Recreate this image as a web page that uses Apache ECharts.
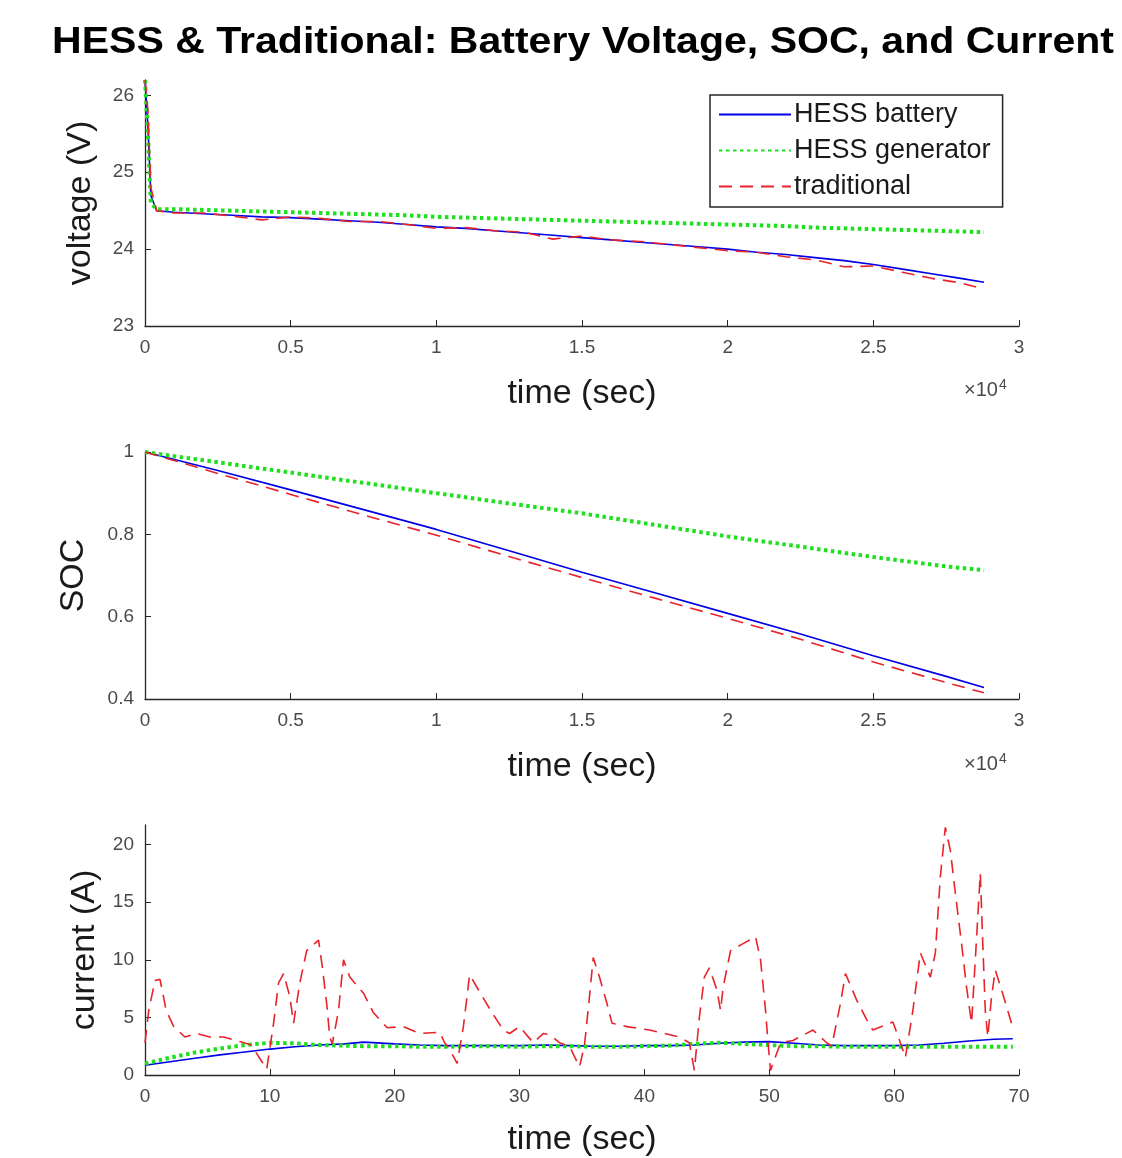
<!DOCTYPE html>
<html>
<head>
<meta charset="utf-8">
<script src="https://cdn.jsdelivr.net/npm/echarts@6/dist/echarts.min.js"></script>
<style>
  html, body { margin: 0; padding: 0; background: #fff; }
  #chart { width: 1122px; height: 1158px; }
</style>
</head>
<body>
<div id="chart"></div>
<script>
// voltage (top panel), time in seconds
const voltTime = [0, 100, 200, 400, 1000, 2000, 3000, 4000, 5000, 6000, 7000, 8000, 9000, 10000,
  11000, 12000, 13000, 14000, 15000, 16000, 17000, 18000, 19000, 20000, 21000, 22000, 23000,
  24000, 25000, 26000, 27000, 28000, 28800]
const voltBattery = [26.2, 25.6, 24.7, 24.5, 24.48, 24.46, 24.44, 24.42, 24.41, 24.39, 24.37, 24.35,
  24.32, 24.29, 24.27, 24.24, 24.21, 24.18, 24.15, 24.12, 24.09, 24.06, 24.03, 24.0, 23.96, 23.93,
  23.89, 23.85, 23.8, 23.74, 23.68, 23.62, 23.57]
const voltGenerator = [26.2, 25.5, 24.6, 24.52, 24.52, 24.51, 24.50, 24.49, 24.48, 24.47, 24.46,
  24.45, 24.44, 24.42, 24.41, 24.40, 24.39, 24.38, 24.37, 24.36, 24.35, 24.34, 24.33, 24.32, 24.31,
  24.30, 24.28, 24.27, 24.26, 24.25, 24.24, 24.23, 24.22]
const voltTraditional = [26.2, 25.8, 24.8, 24.5, 24.47, 24.47, 24.43, 24.38, 24.42, 24.40, 24.36,
  24.36, 24.32, 24.27, 24.28, 24.24, 24.22, 24.13, 24.17, 24.12, 24.10, 24.06, 24.02, 23.98, 23.96,
  23.90, 23.86, 23.77, 23.78, 23.70, 23.62, 23.56, 23.48]

// state of charge (middle panel)
const socTime = [0, 2500, 5000, 7500, 10000, 12500, 15000, 17500, 20000, 22500, 25000, 27500, 28800]
const socBattery = [1.0, 0.955, 0.908, 0.860, 0.812, 0.760, 0.708, 0.658, 0.608, 0.558, 0.505, 0.455, 0.428]
const socGenerator = [1.0, 0.975, 0.95, 0.925, 0.900, 0.875, 0.851, 0.823, 0.795, 0.770, 0.745, 0.722, 0.713]
const socTraditional = [1.0, 0.948, 0.897, 0.847, 0.798, 0.746, 0.695, 0.645, 0.596, 0.545, 0.490, 0.440, 0.415]

// current (bottom panel)
const curTime = [0, 2, 4, 6, 8, 10, 12, 14, 16, 17.5, 20, 22, 24, 26, 28, 30, 32, 34, 36, 38, 40,
  42, 44, 46, 48, 50, 52, 54, 56, 58, 60, 62, 64, 66, 68, 69.5]
const curBattery = [0.85, 1.15, 1.45, 1.75, 2.0, 2.25, 2.45, 2.6, 2.7, 2.85, 2.7, 2.6, 2.55, 2.55,
  2.55, 2.55, 2.6, 2.55, 2.5, 2.5, 2.55, 2.55, 2.6, 2.75, 2.85, 2.9, 2.75, 2.6, 2.55, 2.55, 2.55,
  2.6, 2.75, 2.95, 3.1, 3.15]
const curGenerator = [1.0, 1.5, 1.95, 2.3, 2.6, 2.8, 2.75, 2.6, 2.55, 2.5, 2.5, 2.45, 2.45, 2.5,
  2.5, 2.45, 2.5, 2.5, 2.45, 2.45, 2.5, 2.55, 2.7, 2.8, 2.7, 2.6, 2.5, 2.5, 2.45, 2.45, 2.45, 2.45,
  2.45, 2.45, 2.45, 2.45]
const tradTime = [0, 0.3, 0.8, 1.2, 1.7, 2.3, 3.2, 4.1, 5.2, 6.3, 7.6, 8.5, 9.75, 10.3, 10.7, 11.1,
  11.6, 11.9, 12.4, 12.95, 13.9, 14.2, 14.55, 14.8, 15.0, 15.5, 15.9, 16.4, 17.5, 18.3, 19.4, 20.7,
  22.0, 23.6, 24.0, 24.3, 25.0, 25.5, 26.0, 26.7, 27.8, 28.7, 29.2, 30.0, 31.1, 31.9, 32.4, 33.2,
  34.0, 34.8, 35.2, 35.6, 35.9, 36.4, 37.0, 37.4, 38.6, 40.4, 41.6, 42.8, 43.6, 44.0, 44.4, 44.8,
  45.2, 45.8, 46.1, 46.3, 46.9, 47.9, 48.9, 49.3, 49.7, 49.9, 50.1, 50.9, 51.9, 53.5, 54.6, 55.0,
  55.7, 56.1, 57.0, 57.8, 58.3, 59.9, 60.5, 60.9, 61.5, 62.1, 62.9, 63.3, 63.7, 64.1, 64.5, 64.9,
  65.4, 65.8, 66.2, 66.5, 66.9, 67.1, 67.3, 67.5, 67.8, 68.1, 68.6, 69.4]
const curTraditional = [2.8, 5.6, 8.2, 8.3, 5.6, 4.2, 3.3, 3.6, 3.3, 3.3, 2.9, 2.6, 0.5, 4.5, 8.0,
  8.8, 6.8, 4.5, 8.0, 10.8, 11.7, 9.4, 6.2, 3.3, 2.7, 5.6, 10.0, 8.5, 7.1, 5.4, 4.1, 4.2, 3.6, 3.7,
  2.8, 2.4, 1.0, 4.2, 8.7, 7.4, 5.4, 3.9, 3.6, 4.2, 2.8, 3.6, 3.5, 2.8, 2.5, 0.7, 2.6, 6.8, 10.2,
  8.5, 6.2, 4.5, 4.2, 3.9, 3.6, 3.3, 2.8, 0.4, 5.0, 8.5, 9.3, 7.4, 5.6, 7.6, 10.8, 11.4, 12.0, 10.0,
  5.6, 2.8, 0.4, 2.8, 3.0, 3.9, 2.8, 2.5, 6.2, 8.8, 6.5, 4.8, 3.9, 4.6, 2.8, 1.5, 5.6, 10.6, 8.5,
  10.6, 17.2, 21.5, 19.5, 15.8, 11.4, 7.6, 4.5, 10.0, 17.5, 11.4, 5.6, 3.3, 6.8, 9.1, 7.4, 4.5]

const voltTicks = [23, 24, 25, 26]
const curTicks = [0, 5, 10, 15, 20]
const names = ['HESS battery', 'HESS generator', 'traditional']

const font = 'Liberation Sans, Arial, Helvetica, sans-serif'
const axisColor = '#262626'
const labelColor = '#4a4a4a'

function zip(xs, ys) {
  return xs.map((x, i) => [x, ys[i]])
}

const styles = [
  { color: '#0000e6', width: 1.6, type: 'solid' },
  { color: '#1ee01e', width: 4, type: [3.5, 3.5] },
  { color: '#e8232b', width: 1.6, type: [13, 8] }
]

function makeX(gridIndex, max, interval, scaled, gap) {
  return {
    type: 'value', gridIndex: gridIndex, min: 0, max: max, interval: interval,
    name: 'time (sec)', nameLocation: 'middle', nameGap: gap,
    nameTextStyle: { fontSize: 34, color: '#1a1a1a', fontFamily: font },
    axisLine: { lineStyle: { color: axisColor, width: 1.3 } },
    axisTick: { inside: true, length: 6, lineStyle: { color: axisColor } },
    axisLabel: {
      fontSize: 19, color: labelColor, fontFamily: font, margin: 12,
      formatter: v => scaled ? String(+(v / 10000).toFixed(1)) : String(v)
    },
    splitLine: { show: false }
  }
}

function makeY(gridIndex, opts) {
  return Object.assign({
    type: 'value', gridIndex: gridIndex,
    nameLocation: 'middle',
    nameTextStyle: { fontSize: 34, color: '#1a1a1a', fontFamily: font },
    axisLine: { show: true, lineStyle: { color: axisColor, width: 1.3 } },
    axisTick: { show: true, inside: true, length: 6, lineStyle: { color: axisColor } },
    axisLabel: { fontSize: 19, color: labelColor, fontFamily: font, margin: 11 },
    splitLine: { show: false }
  }, opts)
}

function panel(gridIndex, data) {
  return data.map((d, i) => ({
    name: names[i], type: 'line', xAxisIndex: gridIndex, yAxisIndex: gridIndex,
    data: d, showSymbol: false, symbol: 'none', z: 2 + i,
    lineStyle: { color: styles[i].color, width: styles[i].width, type: styles[i].type },
    itemStyle: { color: styles[i].color },
    animation: false
  }))
}

const series = [].concat(
  panel(0, [zip(voltTime, voltBattery), zip(voltTime, voltGenerator), zip(voltTime, voltTraditional)]),
  panel(1, [zip(socTime, socBattery), zip(socTime, socGenerator), zip(socTime, socTraditional)]),
  panel(2, [zip(curTime, curBattery), zip(curTime, curGenerator), zip(tradTime, curTraditional)])
)

const yAxes = [
  makeY(0, {
    min: 23, max: 26.2, name: 'voltage (V)', nameGap: 47,
    axisTick: { show: true, inside: true, length: 6, lineStyle: { color: axisColor }, customValues: voltTicks },
    axisLabel: { fontSize: 19, color: labelColor, fontFamily: font, margin: 11, customValues: voltTicks }
  }),
  makeY(1, { min: 0.4, max: 1, interval: 0.2, name: 'SOC', nameGap: 54 }),
  makeY(2, {
    min: 0, max: 21.7, name: 'current (A)', nameGap: 43,
    axisTick: { show: true, inside: true, length: 6, lineStyle: { color: axisColor }, customValues: curTicks },
    axisLabel: { fontSize: 19, color: labelColor, fontFamily: font, margin: 11, customValues: curTicks }
  })
]

const chart = echarts.init(document.getElementById('chart'), null, { renderer: 'canvas' })

const sciLabel = {
  text: '×10{s|4}', font: '20px ' + font, fill: labelColor,
  rich: { s: { fontSize: 14, verticalAlign: 'top', padding: [0, 0, 10, 1], fill: labelColor } }
}

chart.setOption({
  backgroundColor: '#fff',
  animation: false,
  textStyle: { fontFamily: font },
  grid: [
    { left: 145, width: 874, top: 80, height: 246 },
    { left: 145, width: 874, top: 452, height: 247 },
    { left: 145, width: 874, top: 825, height: 250 }
  ],
  xAxis: [
    makeX(0, 30000, 5000, true, 51),
    makeX(1, 30000, 5000, true, 51),
    makeX(2, 70, 10, false, 48)
  ],
  yAxis: yAxes,
  legend: {
    data: names, orient: 'vertical', left: 710, top: 95,
    selectedMode: false,
    backgroundColor: '#fff', borderColor: axisColor, borderWidth: 1.5,
    padding: [6, 12, 7, 8], itemGap: 9, itemWidth: 72, itemHeight: 16,
    itemStyle: { opacity: 0 },
    textStyle: { fontSize: 27, color: '#1a1a1a', fontFamily: font, padding: [0, 0, 0, -2] }
  },
  graphic: [
    {
      type: 'text', x: 583, y: 25, scaleX: 1.14,
      style: {
        text: 'HESS & Traditional: Battery Voltage, SOC, and Current',
        font: 'bold 36px ' + font, fill: '#000', align: 'center', verticalAlign: 'top'
      }
    },
    { type: 'text', left: 964, top: 378, style: sciLabel },
    { type: 'text', left: 964, top: 752, style: sciLabel }
  ],
  series: series
})
</script>
</body>
</html>
